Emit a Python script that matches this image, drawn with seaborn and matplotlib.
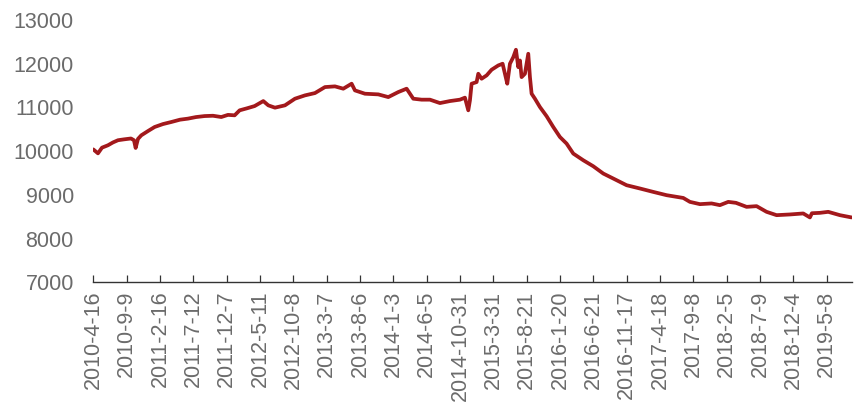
import matplotlib
matplotlib.use("Agg")
import matplotlib.pyplot as plt
import pandas as pd
import seaborn as sns

# trading-day index (from 2010-4-16) and index level
day = [0, 14, 26, 44, 59, 74, 92, 113, 122, 127, 134, 144, 164, 184, 209, 234,
       260, 284, 308, 334, 359, 384, 404, 424, 439, 461, 484, 510, 525, 545,
       575, 605, 635, 665, 695, 725, 750, 775, 785, 815, 855, 885, 915, 940,
       960, 985, 1010, 1040, 1070, 1100, 1115, 1125, 1130, 1135, 1150, 1155,
       1165, 1180, 1195, 1215, 1228, 1235, 1242, 1250, 1260, 1268, 1275, 1280,
       1285, 1295, 1305, 1310, 1315, 1325, 1340, 1360, 1380, 1400, 1420, 1440,
       1470, 1500, 1530, 1560, 1600, 1640, 1680, 1720, 1770, 1790, 1820, 1855,
       1880, 1905, 1928, 1960, 1990, 2020, 2050, 2090, 2130, 2150, 2156, 2180,
       2205, 2240, 2275]
value = [10040, 9950, 10080, 10135, 10200, 10250, 10270, 10290, 10250, 10073,
         10280, 10363, 10460, 10553, 10620, 10667, 10720, 10744, 10780, 10803,
         10810, 10781, 10830, 10820, 10934, 10980, 11032, 11146, 11048, 10995,
         11048, 11200, 11276, 11329, 11466, 11482, 11429, 11543, 11390, 11314,
         11299, 11237, 11352, 11429, 11200, 11178, 11178, 11100, 11146, 11178,
         11224, 10934, 11162, 11543, 11580, 11771, 11657, 11733, 11863, 11961,
         12000, 11771, 11543, 12000, 12150, 12320, 11922, 12075, 11694, 11771,
         12228, 11694, 11315, 11200, 11009, 10800, 10553, 10324, 10173, 9945,
         9792, 9655, 9488, 9374, 9221, 9146, 9068, 8993, 8930, 8840, 8788, 8804,
         8765, 8840, 8818, 8726, 8742, 8612, 8536, 8552, 8575, 8484, 8580, 8589,
         8612, 8536, 8484]

tick_labels = ["2010-4-16", "2010-9-9", "2011-2-16", "2011-7-12", "2011-12-7",
               "2012-5-11", "2012-10-8", "2013-3-7", "2013-8-6", "2014-1-3",
               "2014-6-5", "2014-10-31", "2015-3-31", "2015-8-21", "2016-1-20",
               "2016-6-21", "2016-11-17", "2017-4-18", "2017-9-8", "2018-2-5",
               "2018-7-9", "2018-12-4", "2019-5-8"]

df = pd.DataFrame({"day": day, "value": value})

sns.set_style("white")
plt.rcParams["font.family"] = ["Liberation Sans", "DejaVu Sans"]

fig = plt.figure(figsize=(8.64, 4.17), dpi=100)
ax = fig.add_axes([0.108, 0.323, 0.878, 0.629])

sns.lineplot(data=df, x="day", y="value", color="#A3191C", linewidth=2.7, ax=ax)

ax.set_xlim(0, 2276)
ax.set_ylim(7000, 13000)
ax.set_yticks(range(7000, 13001, 1000))
ax.set_xticks([i * 100 for i in range(len(tick_labels))])
ax.set_xticklabels(tick_labels, rotation=90)
ax.set_xlabel("")
ax.set_ylabel("")

for s in ["top", "right", "left"]:
    ax.spines[s].set_visible(False)
ax.spines["bottom"].set_color("#333333")
ax.spines["bottom"].set_linewidth(1.0)

ax.tick_params(axis="x", direction="in", length=5, width=0.9, color="#333333",
               labelsize=15.5, labelcolor="#6b6b6b", pad=6, bottom=True)
ax.tick_params(axis="y", length=0, labelsize=15.5, labelcolor="#6b6b6b", pad=14)

fig.savefig("out.png", dpi=100)
